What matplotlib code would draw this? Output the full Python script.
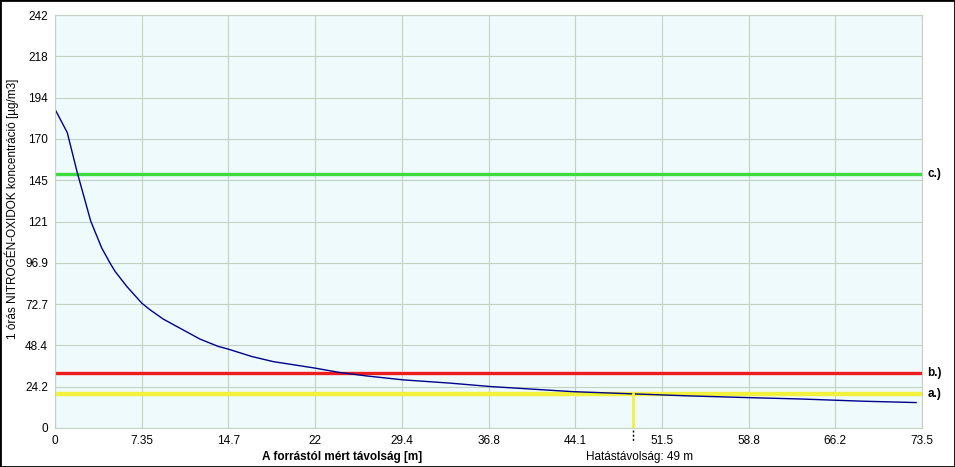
import matplotlib.pyplot as plt
import matplotlib.transforms as mtransforms

plt.rcParams['font.family'] = ['Liberation Sans', 'DejaVu Sans']

# distance [m] and concentration values
dist = [0, 1.04, 1.89, 3.03, 3.96, 4.66, 5.09, 6.08, 7.35, 8.05, 9.18,
        12.29, 13.84, 14.7, 16.68, 18.5, 22.04, 24.16, 26.42, 29.53, 33.49,
        36.9, 43.9, 49.0, 53.8, 58.8, 63.2, 68.5, 73.0]
conc = [186.8, 173.1, 149.6, 121.2, 105.5, 96.7, 91.8, 83.0, 73.2, 69.3, 63.8,
        52.1, 47.8, 46.2, 41.9, 38.9, 35.1, 32.5, 30.5, 28.2, 26.3,
        24.3, 21.3, 20.0, 18.8, 17.8, 17.0, 15.7, 14.9]

limit_names = ['a.)', 'b.)', 'c.)']
limit_values = [20, 32.5, 149]
limit_colors = ['#f2f23c', '#ee1c1c', '#3cdc3c']

impact_dist = 49
impact_conc = 20

xticks = [0, 7.35, 14.7, 22.05, 29.4, 36.75, 44.1, 51.45, 58.8, 66.15, 73.5]
xtick_labels = ['0', '7.35', '14.7', '22', '29.4', '36.8', '44.1', '51.5', '58.8', '66.2', '73.5']
yticks = [0, 24.2, 48.4, 72.6, 96.8, 121, 145.2, 169.4, 193.6, 217.8, 242]
ytick_labels = ['0', '24.2', '48.4', '72.7', '96.9', '121', '145', '170', '194', '218', '242']

grid_col = '#c4d2c4'

fig = plt.figure(figsize=(9.55, 4.67), dpi=100)
ax = fig.add_axes([55 / 955, 39 / 467, 867 / 955, 413 / 467])
ax.set_facecolor('#eefafc')

ax.set_xlim(0, 73.5)
ax.set_ylim(0, 242)
ax.set_xticks(xticks)
ax.set_xticklabels(xtick_labels)
ax.set_yticks(yticks)
ax.set_yticklabels(ytick_labels)
ax.tick_params(length=0, labelsize=8.5, pad=5)
ax.grid(True, color=grid_col, lw=0.8)
ax.set_axisbelow(True)
for s in ax.spines.values():
    s.set_color(grid_col)
    s.set_linewidth(0.8)

trans = mtransforms.blended_transform_factory(ax.transAxes, ax.transData)
lws = [3.2, 2.4, 2.4]
for name, val, col, lw in zip(limit_names, limit_values, limit_colors, lws):
    ax.axhline(val, color=col, lw=lw)
    ax.text(1.006, val, name, transform=trans, fontsize=8.5, fontweight='bold',
            va='center', ha='left')

ax.plot(dist, conc, color='#00008b', lw=1)

# impact distance marker
ax.plot([impact_dist, impact_dist], [0, impact_conc], color='#f2f23c', lw=2)
trans2 = mtransforms.blended_transform_factory(ax.transData, ax.transAxes)
ax.plot([impact_dist, impact_dist], [-0.005, -0.035], color='black', lw=1,
        ls=(0, (1.5, 1.5)), transform=trans2, clip_on=False)

fig.text(12 / 955, 258 / 467, '1 órás NITROGÉN-OXIDOK koncentráció [µg/m3]',
         fontsize=8.5, rotation=90, ha='center', va='center')
fig.text(342 / 955, 10 / 467, 'A forrástól mért távolság [m]', fontsize=8.5,
         fontweight='bold', ha='center', va='center')
fig.text(586 / 955, 10 / 467, 'Hatástávolság: 49 m', fontsize=8.5, ha='left', va='center')

fig.add_artist(plt.Rectangle((0, 0), 1, 1, transform=fig.transFigure, fill=False,
                             ec='black', lw=2))

fig.savefig('out.png', dpi=100)
